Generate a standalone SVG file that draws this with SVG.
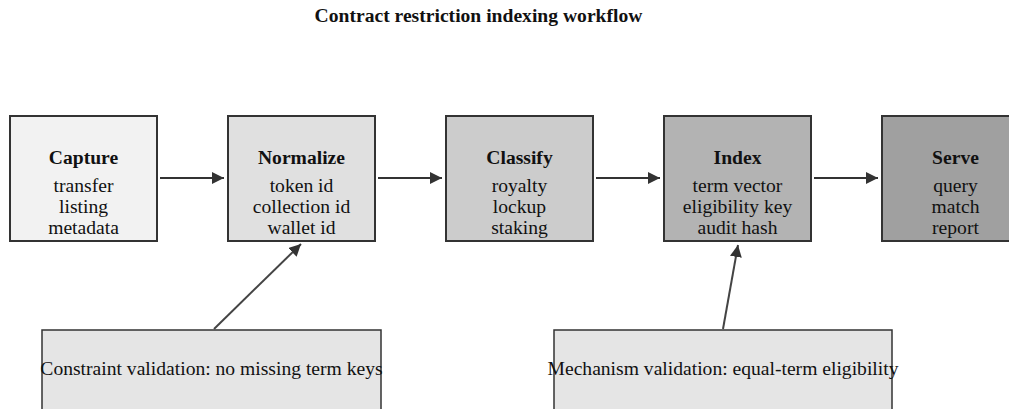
<svg xmlns="http://www.w3.org/2000/svg" width="1009" height="409" viewBox="0 0 1009 409">
<defs>
<style>
text{font-family:"Liberation Serif","Times New Roman",serif;fill:#111;text-anchor:middle}
.t{font-weight:bold;font-size:19.6px}
.l{font-size:19.6px}
.n{stroke:#333;stroke-width:2}
.v{stroke:#333;stroke-width:1.5;fill:#e5e5e5}
.c{stroke:#333;stroke-width:2;fill:none}
.d{stroke:#444;stroke-width:2;fill:none}
</style>
<marker id="ah" viewBox="0 0 10 10" refX="10" refY="5" markerWidth="6" markerHeight="6" orient="auto" markerUnits="strokeWidth">
<path d="M0,0L10,5L0,10z" fill="#333"/>
</marker>
</defs>
<rect width="1009" height="409" fill="#fff"/>
<text x="478.5" y="22" class="t">Contract restriction indexing workflow</text>
<g id="capture"><rect class="n" x="10" y="116" width="147" height="125" fill="#f2f2f2"/><text class="t" x="83.5" y="164">Capture</text><text class="l" x="83.5" y="192">transfer</text><text class="l" x="83.5" y="213">listing</text><text class="l" x="83.5" y="234">metadata</text></g>
<g id="normalize"><rect class="n" x="228" y="116" width="147" height="125" fill="#e0e0e0"/><text class="t" x="301.5" y="164">Normalize</text><text class="l" x="301.5" y="192">token id</text><text class="l" x="301.5" y="213">collection id</text><text class="l" x="301.5" y="234">wallet id</text></g>
<g id="classify"><rect class="n" x="446" y="116" width="147" height="125" fill="#cccccc"/><text class="t" x="519.5" y="164">Classify</text><text class="l" x="519.5" y="192">royalty</text><text class="l" x="519.5" y="213">lockup</text><text class="l" x="519.5" y="234">staking</text></g>
<g id="index"><rect class="n" x="664" y="116" width="147" height="125" fill="#b3b3b3"/><text class="t" x="737.5" y="164">Index</text><text class="l" x="737.5" y="192">term vector</text><text class="l" x="737.5" y="213">eligibility key</text><text class="l" x="737.5" y="234">audit hash</text></g>
<g id="serve"><rect class="n" x="882" y="116" width="147" height="125" fill="#a0a0a0"/><text class="t" x="955.5" y="164">Serve</text><text class="l" x="955.5" y="192">query</text><text class="l" x="955.5" y="213">match</text><text class="l" x="955.5" y="234">report</text></g>
<g id="constraint"><rect class="v" x="42" y="330" width="339" height="90"/><text class="l" x="211.5" y="375">Constraint validation: no missing term keys</text></g>
<g id="mechanism"><rect class="v" x="554" y="330" width="338" height="90"/><text class="l" x="723" y="375">Mechanism validation: equal-term eligibility</text></g>
<g id="connectors">
<line class="c" x1="160" y1="178" x2="224" y2="178" marker-end="url(#ah)"/>
<line class="c" x1="378" y1="178" x2="442" y2="178" marker-end="url(#ah)"/>
<line class="c" x1="596" y1="178" x2="660" y2="178" marker-end="url(#ah)"/>
<line class="c" x1="814" y1="178" x2="878" y2="178" marker-end="url(#ah)"/>
<line class="d" x1="214" y1="329" x2="301" y2="244" marker-end="url(#ah)"/>
<line class="d" x1="723" y1="329" x2="738" y2="245" marker-end="url(#ah)"/>
</g>
</svg>
